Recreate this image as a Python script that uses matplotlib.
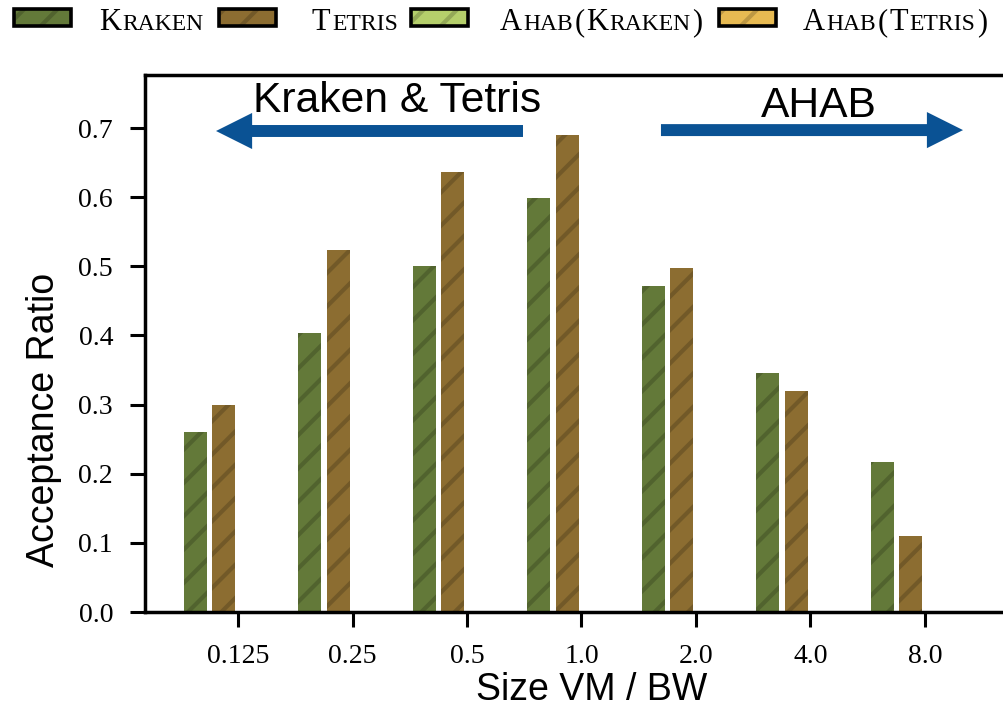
import matplotlib
matplotlib.use("Agg")
import matplotlib.pyplot as plt
from matplotlib.patches import Rectangle
from matplotlib.transforms import IdentityTransform
import numpy as np

# ---------------- data ----------------
categories = ["0.125", "0.25", "0.5", "1.0", "2.0", "4.0", "8.0"]
series_names = ["Kraken", "Tetris", "Ahab(Kraken)", "Ahab(Tetris)"]
kraken = [0.261, 0.403, 0.500, 0.599, 0.471, 0.346, 0.217]
tetris = [0.300, 0.523, 0.636, 0.690, 0.498, 0.320, 0.110]
ahab_kraken = [0.0, 0.0, 0.0, 0.0, 0.0, 0.0, 0.0]
ahab_tetris = [0.0, 0.0, 0.0, 0.0, 0.0, 0.0, 0.0]
yticks = [0.0, 0.1, 0.2, 0.3, 0.4, 0.5, 0.6, 0.7]

colors = ["#637939", "#8c6d31", "#b5cf6b", "#e7ba52"]
arrow_color = "#0a5294"

W, H = 1004, 717
plt.rcParams["hatch.linewidth"] = 3.0
fig = plt.figure(figsize=(W / 100, H / 100), dpi=100)

# axes geometry (pixels)
ax_left, ax_right, ax_top, ax_bot = 145, 1024, 75, 612
ax = fig.add_axes([ax_left / W, 1 - ax_bot / H, (ax_right - ax_left) / W, (ax_bot - ax_top) / H])

x = np.arange(len(categories))
px_per_unit = 114.5
xmin = (ax_left - 238) / px_per_unit
ax.set_xlim(xmin, xmin + (ax_right - ax_left) / px_per_unit)
ax.set_ylim(0, (ax_bot - ax_top) / 691.4)

all_series = [kraken, tetris, ahab_kraken, ahab_tetris]
offsets = [-0.375, -0.125, 0.125, 0.375]
for vals, off, c in zip(all_series, offsets, colors):
    ax.bar(x + off, vals, width=0.2, color=c, edgecolor=(0, 0, 0, 0.18),
           linewidth=0, hatch="/")

ax.set_xticks(x)
ax.set_xticklabels(categories, fontfamily="Liberation Serif", fontsize=20)
ax.set_yticks(yticks)
ax.set_yticklabels([f"{v:.1f}" for v in yticks], fontfamily="Liberation Serif", fontsize=20)
ax.tick_params(axis="both", direction="out", length=11, width=2.2, pad=12)
for s in ["left", "top", "bottom"]:
    ax.spines[s].set_linewidth(2.5)
ax.spines["right"].set_visible(False)

ax.set_ylabel("Acceptance Ratio", fontfamily="Liberation Sans", fontsize=27)
ax.yaxis.label.set_va("center")
ax.yaxis.set_label_coords((44 - ax_left) / (ax_right - ax_left), (ax_bot - 420) / (ax_bot - ax_top))
ax.set_xlabel("Size VM / BW", fontfamily="Liberation Sans", fontsize=27)
ax.xaxis.label.set_va("baseline")
ax.xaxis.set_label_coords((592 - ax_left) / (ax_right - ax_left), (ax_bot - 700) / (ax_bot - ax_top))

# annotations
ax.text(1.389, 0.723, "Kraken & Tetris", ha="center", va="baseline",
        fontfamily="Liberation Sans", fontsize=30.7)
ax.text(5.074, 0.716, "AHAB", ha="center", va="baseline",
        fontfamily="Liberation Sans", fontsize=30.7)
astyle = "simple,head_length=2.6,head_width=2.6,tail_width=0.86"
ax.annotate("", xy=(-0.192, 0.6957), xytext=(2.489, 0.6957),
            arrowprops=dict(arrowstyle=astyle, color=arrow_color, shrinkA=0, shrinkB=0,
                            mutation_scale=10, lw=0))
ax.annotate("", xy=(6.332, 0.697), xytext=(3.694, 0.697),
            arrowprops=dict(arrowstyle=astyle, color=arrow_color, shrinkA=0, shrinkB=0,
                            mutation_scale=10, lw=0))

# ---------------- custom legend (small caps) ----------------
legend_pieces = [
    [("K", "b"), ("RAKEN", "s")],
    [("T", "b"), ("ETRIS", "s")],
    [("A", "b"), ("HAB", "s"), ("(", "b"), ("K", "b"), ("RAKEN", "s"), (")", "b")],
    [("A", "b"), ("HAB", "s"), ("(", "b"), ("T", "b"), ("ETRIS", "s"), (")", "b")],
]
patch_left = [14, 219, 411, 719]
text_left = [99, 312, 500, 803]
big, small = 22, 17
tracking = 1.5
baseline_y = H - 30
fig.canvas.draw()
renderer = fig.canvas.get_renderer()
for i in range(4):
    fig.add_artist(Rectangle((patch_left[i] / W, 1 - 26 / H), 57 / W, 17 / H,
                             transform=fig.transFigure, facecolor=colors[i],
                             edgecolor="black", linewidth=2.6))
    fig.add_artist(Rectangle((patch_left[i] / W, 1 - 26 / H), 57 / W, 17 / H,
                             transform=fig.transFigure, facecolor="none",
                             edgecolor=(0, 0, 0, 0.18), linewidth=0, hatch="/"))
    xx = text_left[i]
    for s, kind in legend_pieces[i]:
        t = fig.text(xx, baseline_y, s, transform=IdentityTransform(),
                     fontfamily="Liberation Serif", fontsize=big if kind == "b" else small,
                     ha="left", va="baseline")
        bb = t.get_window_extent(renderer)
        xx += bb.width + tracking

fig.savefig("out.png", dpi=100)
